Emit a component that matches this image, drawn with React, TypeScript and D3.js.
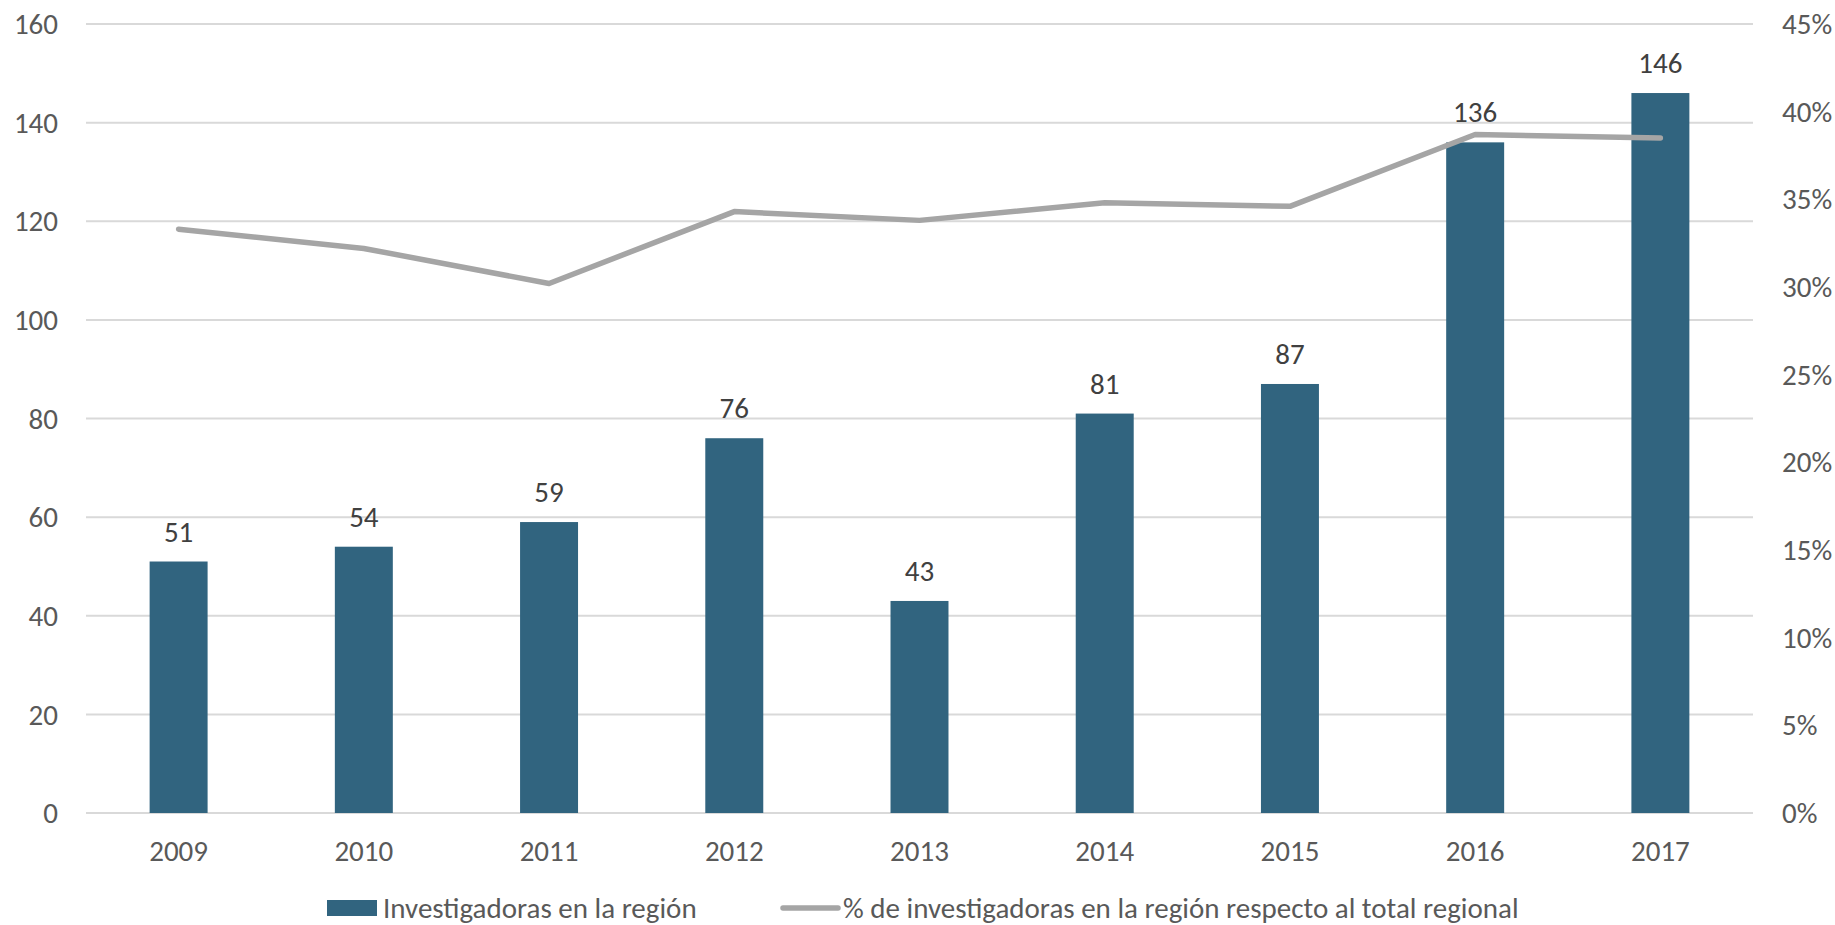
import { useEffect, useRef } from 'react';
import * as d3 from 'd3';

const years = ['2009', '2010', '2011', '2012', '2013', '2014', '2015', '2016', '2017'];
const investigadoras = [51, 54, 59, 76, 43, 81, 87, 136, 146];
const porcentaje = [0.333, 0.322, 0.302, 0.343, 0.338, 0.348, 0.346, 0.387, 0.385];
const leftTicks = [0, 20, 40, 60, 80, 100, 120, 140, 160];
const rightTicks = [0, 0.05, 0.1, 0.15, 0.2, 0.25, 0.3, 0.35, 0.4, 0.45];

const barLabel = 'Investigadoras en la región';
const lineLabel = '% de investigadoras en la región respecto al total regional';

const W = 1835;
const H = 925;
const FONT = 'Calibri, Carlito, "Open Sans", sans-serif';
const FS = 29;

export default function App() {
  const svgRef = useRef<SVGSVGElement>(null);

  useEffect(() => {
    document.body.style.margin = '0';
    if (!svgRef.current) return;
    const svg = d3.select(svgRef.current);
    svg.selectAll('*').remove();

    const margin = { top: 24, right: W - 1753, bottom: H - 813, left: 86 };
    const innerW = W - margin.left - margin.right;
    const innerH = H - margin.top - margin.bottom;

    const g = svg.append('g').attr('transform', `translate(${margin.left},${margin.top})`);

    const x = d3.scaleBand<string>().domain(years).range([0, innerW]).paddingInner(0.687).paddingOuter(0.3435);
    const y = d3.scaleLinear().domain([0, 160]).range([innerH, 0]);
    const y2 = d3.scaleLinear().domain([0, 0.45]).range([innerH, 0]);

    // gridlines
    g.selectAll('.grid')
      .data(leftTicks)
      .enter()
      .append('line')
      .attr('x1', 0)
      .attr('x2', innerW)
      .attr('y1', (d) => y(d))
      .attr('y2', (d) => y(d))
      .attr('stroke', '#d9d9d9')
      .attr('stroke-width', 2);

    // left axis labels
    g.selectAll('.ly')
      .data(leftTicks)
      .enter()
      .append('text')
      .attr('x', -28)
      .attr('y', (d) => y(d))
      .attr('dy', '0.35em')
      .attr('text-anchor', 'end')
      .attr('fill', '#595959')
      .attr('font-family', FONT)
      .attr('font-size', FS)
      .text((d) => d);

    // right axis labels
    g.selectAll('.ry')
      .data(rightTicks)
      .enter()
      .append('text')
      .attr('x', innerW + 29)
      .attr('y', (d) => y2(d))
      .attr('dy', '0.35em')
      .attr('text-anchor', 'start')
      .attr('fill', '#595959')
      .attr('font-family', FONT)
      .attr('font-size', FS)
      .text((d) => d3.format('.0%')(d));

    // x labels
    g.selectAll('.xl')
      .data(years)
      .enter()
      .append('text')
      .attr('x', (d) => (x(d) ?? 0) + x.bandwidth() / 2)
      .attr('y', innerH + 38)
      .attr('dy', '0.35em')
      .attr('text-anchor', 'middle')
      .attr('fill', '#595959')
      .attr('font-family', FONT)
      .attr('font-size', FS)
      .text((d) => d);

    // bars
    g.selectAll('.bar')
      .data(investigadoras)
      .enter()
      .append('rect')
      .attr('x', (_, i) => x(years[i]) ?? 0)
      .attr('y', (d) => y(d))
      .attr('width', x.bandwidth())
      .attr('height', (d) => innerH - y(d))
      .attr('fill', '#31647f');

    // bar value labels
    g.selectAll('.bl')
      .data(investigadoras)
      .enter()
      .append('text')
      .attr('x', (_, i) => (x(years[i]) ?? 0) + x.bandwidth() / 2)
      .attr('y', (d) => y(d) - 20)
      .attr('text-anchor', 'middle')
      .attr('fill', '#404040')
      .attr('font-family', FONT)
      .attr('font-size', FS)
      .text((d) => d);

    // line
    const line = d3
      .line<number>()
      .x((_, i) => (x(years[i]) ?? 0) + x.bandwidth() / 2)
      .y((d) => y2(d));

    g.append('path')
      .datum(porcentaje)
      .attr('d', line)
      .attr('fill', 'none')
      .attr('stroke', '#a5a5a5')
      .attr('stroke-width', 5.5)
      .attr('stroke-linejoin', 'round')
      .attr('stroke-linecap', 'round');

    // legend
    const lg = svg.append('g');
    lg.append('rect')
      .attr('x', 327)
      .attr('y', 900)
      .attr('width', 50)
      .attr('height', 16)
      .attr('fill', '#31647f');
    lg.append('text')
      .attr('x', 383)
      .attr('y', 908)
      .attr('dy', '0.35em')
      .attr('fill', '#595959')
      .attr('font-family', FONT)
      .attr('font-size', FS)
      .text(barLabel);
    lg.append('line')
      .attr('x1', 783)
      .attr('x2', 838)
      .attr('y1', 908)
      .attr('y2', 908)
      .attr('stroke', '#a5a5a5')
      .attr('stroke-width', 5.5)
      .attr('stroke-linecap', 'round');
    lg.append('text')
      .attr('x', 843)
      .attr('y', 908)
      .attr('dy', '0.35em')
      .attr('fill', '#595959')
      .attr('font-family', FONT)
      .attr('font-size', FS)
      .text(lineLabel);
  }, []);

  return <svg ref={svgRef} width={W} height={H} style={{ display: 'block', background: '#fff' }} />;
}
